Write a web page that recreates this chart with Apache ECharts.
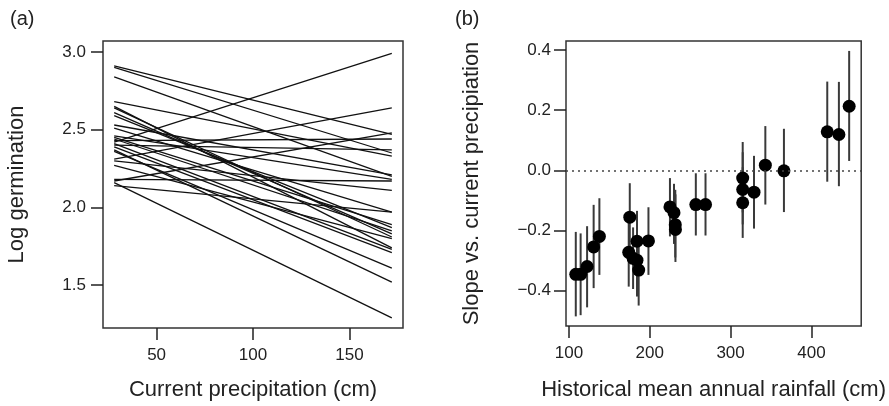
<!DOCTYPE html>
<html>
<head>
<meta charset="utf-8">
<script src="https://cdn.jsdelivr.net/npm/echarts@6/dist/echarts.min.js"></script>
<style>
  html, body { margin: 0; padding: 0; background: #fff; }
  #chart { width: 889px; height: 406px; }
</style>
</head>
<body>
<div id="chart"></div>
<script>
// panel (a): fitted lines, log germination at the ends of the precipitation range
const precipEnds = [28, 172];
const logStart = [2.42, 2.31, 2.17, 2.91, 2.90, 2.84, 2.68, 2.43, 2.40, 2.53, 2.46, 2.18, 2.30, 2.51,
  2.65, 2.64, 2.61, 2.59, 2.45, 2.44, 2.41, 2.39, 2.36, 2.37, 2.14, 2.16, 2.27];
const logEnd = [2.99, 2.64, 2.48, 2.47, 2.35, 2.20, 2.33, 2.44, 2.37, 2.21, 2.18, 2.17, 2.11, 1.97,
  1.74, 1.81, 1.83, 1.87, 1.89, 1.85, 1.73, 1.71, 1.61, 1.52, 1.97, 1.29, 1.80];

// panel (b): slope estimates with intervals
const rainfall = [108.5, 114.5, 122.5, 130.6, 137.7, 174, 175.3, 179.4, 184.2, 184.2, 186.3, 198.4,
  225, 230, 231.6, 231.8, 257, 269, 315, 315, 315, 329, 343, 366, 419.6, 434, 446.7];
const slope = [-0.346, -0.346, -0.32, -0.255, -0.22, -0.273, -0.156, -0.293, -0.236, -0.299, -0.332, -0.235,
  -0.122, -0.141, -0.181, -0.197, -0.114, -0.114, -0.026, -0.064, -0.108, -0.073, 0.017, -0.002, 0.128, 0.119, 0.213];
const slopeLo = [-0.486, -0.482, -0.456, -0.392, -0.348, -0.387, -0.27, -0.395, -0.345, -0.42, -0.45, -0.348,
  -0.22, -0.245, -0.29, -0.305, -0.217, -0.217, -0.14, -0.18, -0.225, -0.194, -0.114, -0.139, -0.038, -0.053, 0.031];
const slopeHi = [-0.205, -0.21, -0.186, -0.115, -0.093, -0.161, -0.043, -0.19, -0.135, -0.18, -0.22, -0.123,
  -0.026, -0.045, -0.065, -0.08, -0.01, -0.01, 0.094, 0.06, 0.01, 0.048, 0.147, 0.138, 0.295, 0.294, 0.397];

const xTicksA = [50, 100, 150];
const yTicksA = [1.5, 2.0, 2.5, 3.0];
const xTicksB = [100, 200, 300, 400];
const yTicksB = [-0.4, -0.2, 0.0, 0.2, 0.4];

const font = 'Liberation Sans, Arial, Helvetica, sans-serif';
const ink = '#222';

function fmtMinus(v) {
  const s = v.toFixed(1);
  return s.charAt(0) === '-' ? '\u2212' + s.slice(1) : s;
}

function axisBase(ticks, fmt, margin) {
  return {
    axisLine: { show: false, onZero: false },
    splitLine: { show: false },
    axisTick: { show: true, length: 12, customValues: ticks, lineStyle: { color: ink, width: 1.5 } },
    axisLabel: {
      show: true, customValues: ticks, margin,
      color: ink, fontFamily: font, fontSize: 17, formatter: fmt,
    },
    nameLocation: 'middle',
    nameTextStyle: { color: ink, fontFamily: font, fontSize: 22 },
  };
}

const chart = echarts.init(document.getElementById('chart'), null, { renderer: 'canvas' });

const lineSeries = logStart.map((v, i) => ({
  type: 'line',
  xAxisIndex: 0,
  yAxisIndex: 0,
  data: [[precipEnds[0], v], [precipEnds[1], logEnd[i]]],
  showSymbol: false,
  symbol: 'none',
  lineStyle: { color: '#111', width: 1.3 },
  silent: true,
}));

const option = {
  animation: false,
  grid: [
    { left: 103, top: 41, width: 300, height: 287, show: true, borderColor: '#333', borderWidth: 1.5 },
    { left: 566, top: 41, width: 300, height: 287, show: true, borderColor: '#333', borderWidth: 1.5 },
  ],
  xAxis: [
    Object.assign(axisBase(xTicksA, (v) => String(v), 19), {
      type: 'value', gridIndex: 0, min: 22.2, max: 177.8,
      name: 'Current precipitation (cm)', nameGap: 51,
    }),
    Object.assign(axisBase(xTicksB, (v) => String(v), 19), {
      type: 'value', gridIndex: 1, min: 96.4, max: 461.6,
      name: 'Historical mean annual rainfall (cm)', nameGap: 53,
    }),
  ],
  yAxis: [
    Object.assign(axisBase(yTicksA, (v) => v.toFixed(1), 17), {
      type: 'value', gridIndex: 0, min: 1.225, max: 3.07,
      name: 'Log germination', nameGap: 75,
    }),
    Object.assign(axisBase(yTicksB, fmtMinus, 15), {
      type: 'value', gridIndex: 1, min: -0.518, max: 0.43,
      name: 'Slope vs. current precipiation', nameGap: 83,
    }),
  ],
  graphic: [
    { type: 'text', left: 10, top: 9, style: { text: '(a)', font: '20px ' + font, fill: ink } },
    { type: 'text', left: 455, top: 9, style: { text: '(b)', font: '20px ' + font, fill: ink } },
  ],
  series: lineSeries.concat([
    {
      type: 'custom',
      xAxisIndex: 1,
      yAxisIndex: 1,
      data: rainfall.map((x, i) => [x, slopeLo[i], slopeHi[i]]),
      renderItem(params, api) {
        const lo = api.coord([api.value(0), api.value(1)]);
        const hi = api.coord([api.value(0), api.value(2)]);
        return {
          type: 'line',
          shape: { x1: lo[0], y1: lo[1], x2: hi[0], y2: hi[1] },
          style: { stroke: '#3a3a3a', lineWidth: 2 },
        };
      },
      silent: true,
      z: 2,
    },
    {
      type: 'scatter',
      xAxisIndex: 1,
      yAxisIndex: 1,
      data: rainfall.map((x, i) => [x, slope[i]]),
      symbol: 'circle',
      symbolSize: 13,
      itemStyle: { color: '#000', opacity: 1 },
      silent: true,
      z: 3,
      markLine: {
        silent: true,
        symbol: 'none',
        label: { show: false },
        lineStyle: { color: '#444', width: 1.5, type: [2, 4] },
        data: [{ yAxis: 0 }],
      },
    },
  ]),
};

chart.setOption(option);
</script>
</body>
</html>
